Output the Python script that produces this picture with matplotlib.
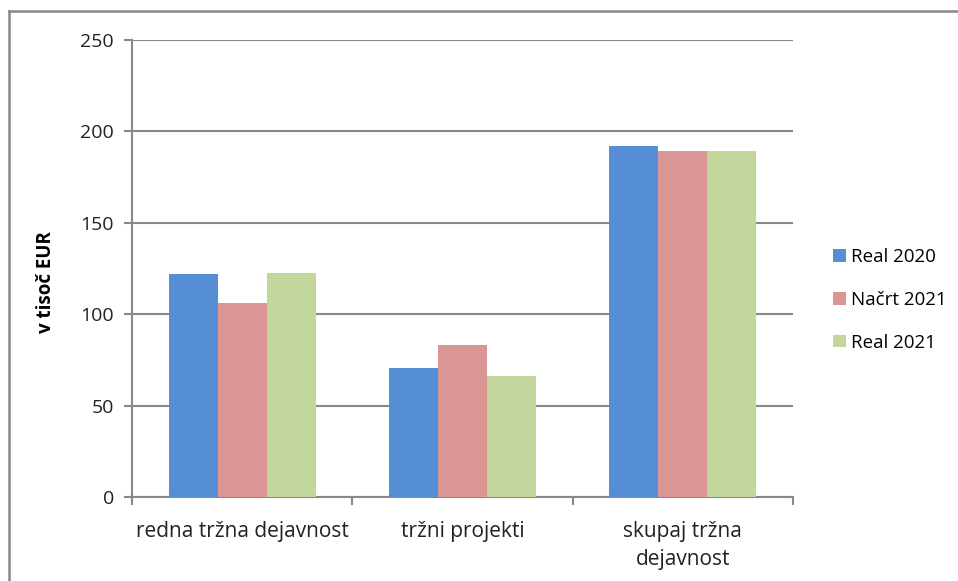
import numpy as np
import matplotlib.pyplot as plt
from matplotlib.lines import Line2D

categories = ['redna tržna dejavnost', 'tržni projekti', 'skupaj tržna\ndejavnost']
series = ['Real 2020', 'Načrt 2021', 'Real 2021']
real_2020 = [122.0, 70.5, 192.2]
nacrt_2021 = [106.0, 83.3, 189.3]
real_2021 = [122.6, 66.3, 189.3]
yticks = [0, 50, 100, 150, 200, 250]

colors = ['#558ED5', '#D99694', '#C3D69B']
grey = '#888888'

plt.rcParams['font.family'] = ['Open Sans', 'DejaVu Sans']
plt.rcParams['font.size'] = 13.5

W, H = 958, 581
fig = plt.figure(figsize=(W / 100, H / 100), dpi=100)
ax = fig.add_axes([132 / W, 1 - 497 / H, (793 - 132) / W, (497 - 40) / H])

x = np.arange(len(categories))
w = 0.222
for i, (vals, name) in enumerate(zip([real_2020, nacrt_2021, real_2021], series)):
    ax.bar(x + (i - 1) * w, vals, width=w, color=colors[i], label=name,
           zorder=3, linewidth=0)

ax.set_xlim(-0.5, 2.5)
ax.set_ylim(0, 250)
ax.set_yticks(yticks)
ax.yaxis.grid(True, color=grey, linewidth=1.5, zorder=0)
ax.set_axisbelow(True)

for s in ['top', 'right']:
    ax.spines[s].set_visible(False)
for s in ['left', 'bottom']:
    ax.spines[s].set_color(grey)
    ax.spines[s].set_linewidth(1.5)

ax.set_xticks(x)
ax.set_xticklabels(categories, fontsize=15, linespacing=1.45)
ax.set_xticks([-0.5, 0.5, 1.5, 2.5], minor=True)
ax.tick_params(axis='x', which='major', length=0, pad=17, colors='#222222')
ax.tick_params(axis='x', which='minor', length=6, width=1.5, color=grey)
ax.tick_params(axis='y', length=6, width=1.5, color=grey, pad=7,
               labelcolor='#222222', labelsize=14)

ax.set_ylabel('v tisoč EUR', fontweight='bold')
ax.yaxis.set_label_coords(-76 / (793 - 132), 0.47)

ax.legend(loc='center left', bbox_to_anchor=(824 / W, 1 - 300 / H),
          bbox_transform=fig.transFigure, frameon=False,
          handlelength=0.65, handleheight=0.65, handletextpad=0.3,
          labelspacing=1.32, borderpad=0)

# chart border (top and left edges visible, rest falls outside the image)
fig.add_artist(Line2D([9 / W, 1.1], [1 - 11 / H, 1 - 11 / H],
                      transform=fig.transFigure, color=grey, linewidth=1.8))
fig.add_artist(Line2D([9 / W, 9 / W], [-0.1, 1 - 11 / H],
                      transform=fig.transFigure, color=grey, linewidth=1.8))

fig.savefig('out.png', dpi=100)
